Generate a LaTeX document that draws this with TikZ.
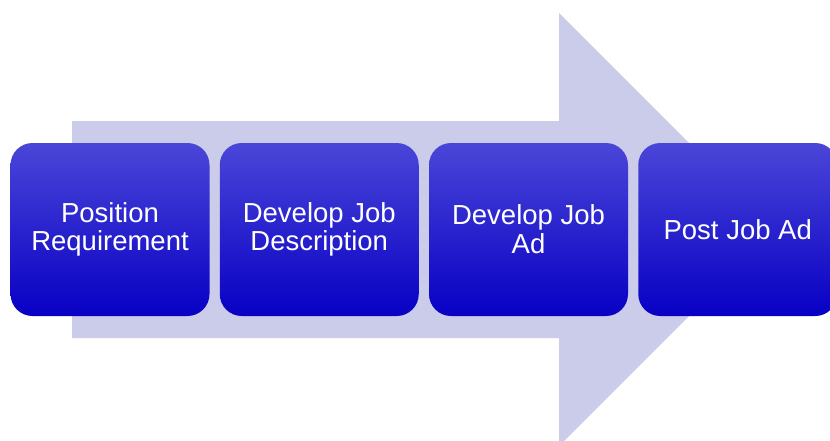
\documentclass[tikz,border=0pt]{standalone}
\usepackage{fontspec}
\setmainfont{Liberation Sans}
\definecolor{arrowfill}{HTML}{CBCBEA}
\definecolor{boxtop}{HTML}{4A46D8}
\definecolor{boxmid}{HTML}{1A0CD0}
\definecolor{boxbot}{HTML}{0800C4}
\tikzset{
  stepbox/.style={
    rectangle, rounded corners=22pt,
    minimum width=199pt, minimum height=173pt, inner sep=0pt,
    top color=boxtop, middle color=boxmid, bottom color=boxbot,
    shading angle=0,
    text=white, align=center,
    font=\fontsize{27.5}{28.7}\selectfont
  }
}
\begin{document}
\begin{tikzpicture}[x=1pt,y=-1pt]
  \useasboundingbox (0,0) rectangle (830,440);
  \clip (0,0) rectangle (830,440);
  % broad background arrow
  \fill[arrowfill] (72,121) -- (559,121) -- (559,13) -- (775.5,229.5)
    -- (559,446) -- (559,338) -- (72,338) -- cycle;
  % process steps
  \node[stepbox] (s1) at (110,229.5) {Position\\Requirement};
  \node[stepbox] (s2) at (319.25,229.5) {Develop Job\\Description};
  \node[stepbox] (s3) at (528.5,229.5) {Develop Job\\Ad};
  \node[stepbox] (s4) at (737.75,229.5) {Post Job Ad};
\end{tikzpicture}
\end{document}
